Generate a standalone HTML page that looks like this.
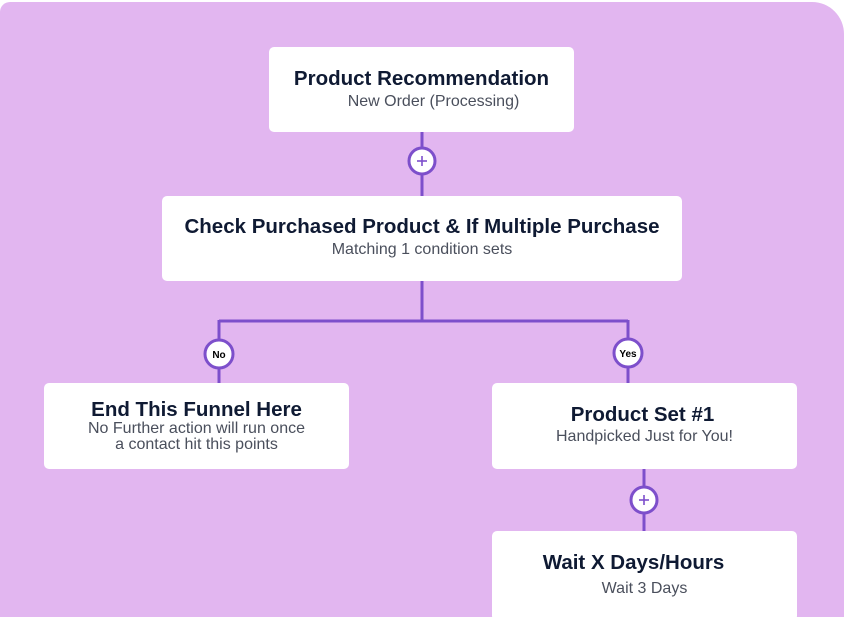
<!DOCTYPE html><html style="width:844px;height:617px;overflow:hidden"><head><style>
body{margin:0;width:844px;height:617px;background:#fff;overflow:hidden;position:relative;font-family:"Liberation Sans",sans-serif}
.bg{position:absolute;left:0;top:2px;width:844px;height:615px;background:#E2B6F0;border-radius:10px 32px 0 0}
.box{position:absolute;background:#fff;border-radius:5px;text-align:center;color:#4a4f5c}
.t{font-weight:bold;color:#0f1a33;font-size:20.5px;position:absolute;left:0;right:0;white-space:nowrap}
.s{font-size:16px;position:absolute;left:0;right:0;line-height:16px;white-space:nowrap}
svg{position:absolute;left:0;top:0}
</style></head><body><div class="bg"></div>
<svg width="844" height="617">
<g stroke="#7D4FCB" stroke-width="3" fill="none">
<line x1="422" y1="132" x2="422" y2="196"/>
<line x1="422" y1="281" x2="422" y2="321"/>
<line x1="219" y1="321" x2="628" y2="321"/>
<line x1="219" y1="320" x2="219" y2="383"/>
<line x1="628" y1="320" x2="628" y2="383"/>
<line x1="644" y1="469" x2="644" y2="531"/>
</g>
<g stroke="#7D4FCB" stroke-width="3" fill="#fff">
<circle cx="422" cy="161" r="13"/><circle cx="644" cy="500" r="13"/>
<circle cx="219" cy="354" r="14"/><circle cx="628" cy="353" r="14"/>
</g>
<g stroke="#7D4FCB" stroke-width="1.6"><line x1="417" y1="161" x2="427" y2="161"/><line x1="422" y1="156" x2="422" y2="166"/>
<line x1="639" y1="500" x2="649" y2="500"/><line x1="644" y1="495" x2="644" y2="505"/></g>
<text x="219" y="358" font-size="10" font-weight="bold" text-anchor="middle" font-family="Liberation Sans">No</text>
<text x="628" y="357" font-size="10" font-weight="bold" text-anchor="middle" font-family="Liberation Sans">Yes</text>
</svg>
<div class="box" style="left:269px;top:47px;width:305px;height:85px"><div class="t" style="top:20px">Product Recommendation</div><div class="s" style="top:47px;left:24px">New Order (Processing)</div></div>
<div class="box" style="left:162px;top:196px;width:520px;height:85px"><div class="t" style="top:19px">Check Purchased Product &amp; If Multiple Purchase</div><div class="s" style="top:46px">Matching 1 condition sets</div></div>
<div class="box" style="left:44px;top:383px;width:305px;height:86px"><div class="t" style="top:15px">End This Funnel Here</div><div class="s" style="top:38px">No Further action will run once<br>a contact hit this points</div></div>
<div class="box" style="left:492px;top:383px;width:305px;height:86px"><div class="t" style="top:20px;left:-4px">Product Set #1</div><div class="s" style="top:46px">Handpicked Just for You!</div></div>
<div class="box" style="left:492px;top:531px;width:305px;height:90px"><div class="t" style="top:20px;left:-22px">Wait X Days/Hours</div><div class="s" style="top:50px">Wait 3 Days</div></div>
</body></html>
